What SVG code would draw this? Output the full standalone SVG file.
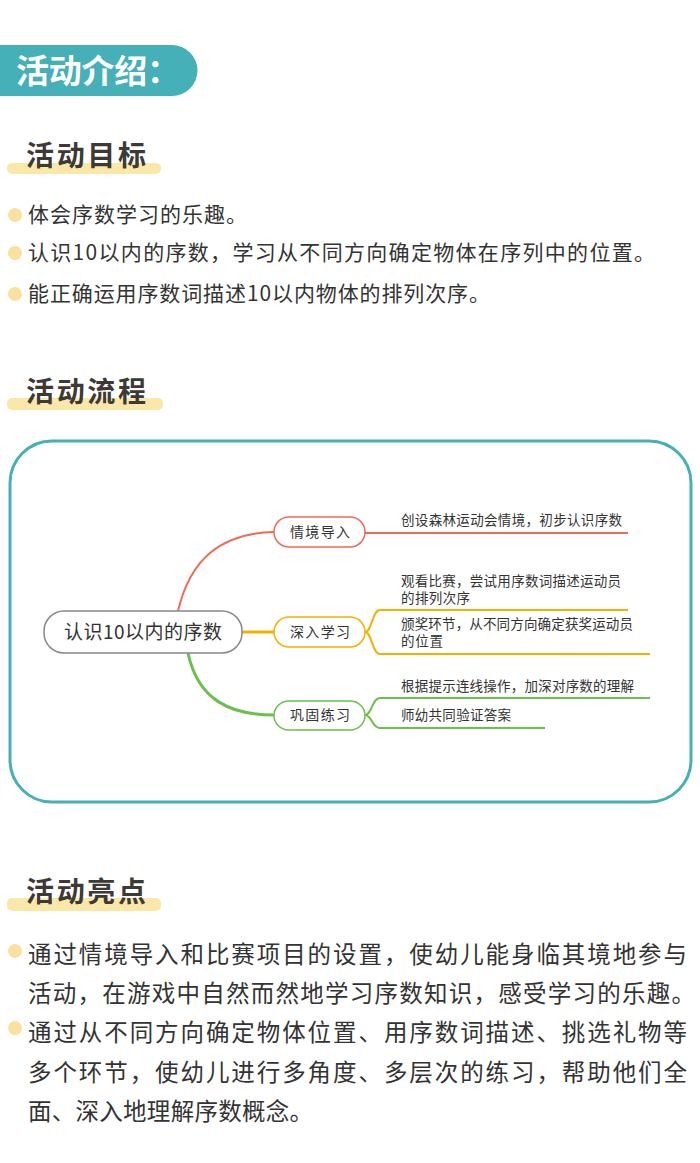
<svg xmlns="http://www.w3.org/2000/svg" width="700" height="1163" viewBox="0 0 700 1163">
<style>
text{font-family:"Noto Sans CJK SC","Noto Sans",sans-serif}
.h{font-size:28px;font-weight:bold;fill:#3d3a36}
.bar{fill:#fbe7a8}
.dot{fill:#fbe0a0}
.b1{font-size:21px;fill:#333}
.b2{font-size:23.5px;fill:#333}
.leaf{font-size:13.5px;fill:#333}
.nt{font-size:14px;fill:#333}
.n{fill:#fff;stroke-width:1.5}
</style>
<rect width="700" height="1163" fill="#fff"/>
<path d="M0 45 H172 A25.5 25.5 0 0 1 172 96 H0 Z" fill="#45b0b8"/>
<text x="16" y="83" font-size="33" font-weight="bold" fill="#fff" textLength="164">活动介绍：</text>

<rect class="bar" x="7" y="163" width="154" height="11" rx="5"/>
<text class="h" x="26" y="166" textLength="120">活动目标</text>
<circle class="dot" cx="15" cy="215" r="7"/>
<text class="b1" x="28" y="222" textLength="219">体会序数学习的乐趣。</text>
<circle class="dot" cx="15" cy="253" r="7"/>
<text class="b1" x="28" y="260" textLength="627">认识10以内的序数，学习从不同方向确定物体在序列中的位置。</text>
<circle class="dot" cx="15" cy="294" r="7"/>
<text class="b1" x="28" y="301" textLength="462">能正确运用序数词描述10以内物体的排列次序。</text>

<rect class="bar" x="7" y="398" width="156" height="12" rx="5"/>
<text class="h" x="26" y="402" textLength="120">活动流程</text>

<rect x="10" y="441" width="681" height="361" rx="42" fill="none" stroke="#45b0b8" stroke-width="3"/>

<g id="connectors" fill="none" stroke-width="2">
<path d="M178 611 C190 560 220 533 274 532" stroke="#f06a5a"/>
<path d="M365 533 H628" stroke="#f06a5a"/>
<path d="M242 632 H274" stroke="#f5b000" stroke-width="3"/>
<path d="M365 632 C372 632 372 610 380 610 H628 M365 632 C372 632 372 654 380 654 H650" stroke="#f5b000"/>
<path d="M188 653 C198 700 230 715 274 715" stroke="#6cbf4a" stroke-width="3"/>
<path d="M365 715 C372 715 372 698 380 698 H650 M365 715 C372 715 372 728 380 728 H545" stroke="#6cbf4a"/>
</g>

<g id="root"><rect class="n" x="44" y="611" width="198" height="42" rx="20" stroke="#888"/>
<text x="64" y="639" font-size="19" fill="#333" textLength="158">认识10以内的序数</text></g>
<g id="n1"><rect class="n" x="274" y="517" width="91" height="30" rx="15" stroke="#f06a5a"/>
<text class="nt" x="290" y="537" textLength="60">情境导入</text></g>
<g id="n2"><rect class="n" x="274" y="617" width="91" height="30" rx="15" stroke="#f5b000"/>
<text class="nt" x="290" y="637" textLength="60">深入学习</text></g>
<g id="n3"><rect class="n" x="274" y="701" width="91" height="29" rx="15" stroke="#6cbf4a"/>
<text class="nt" x="290" y="720" textLength="60">巩固练习</text></g>
<g id="leaves">
<text class="leaf" x="401" y="525" textLength="221">创设森林运动会情境，初步认识序数</text>
<text class="leaf" x="401" y="586" textLength="220">观看比赛，尝试用序数词描述运动员</text>
<text class="leaf" x="401" y="603" textLength="69">的排列次序</text>
<text class="leaf" x="401" y="629" textLength="232">颁奖环节，从不同方向确定获奖运动员</text>
<text class="leaf" x="401" y="646" textLength="42">的位置</text>
<text class="leaf" x="401" y="691" textLength="233">根据提示连线操作，加深对序数的理解</text>
<text class="leaf" x="401" y="720" textLength="110">师幼共同验证答案</text>
</g>

<rect class="bar" x="7" y="898" width="154" height="13" rx="5"/>
<text class="h" x="26" y="902" textLength="120">活动亮点</text>
<circle class="dot" cx="15" cy="951" r="7"/>
<text class="b2" x="28" y="963" textLength="659">通过情境导入和比赛项目的设置，使幼儿能身临其境地参与</text>
<text class="b2" x="28" y="1002" textLength="667">活动，在游戏中自然而然地学习序数知识，感受学习的乐趣。</text>
<circle class="dot" cx="15" cy="1028" r="7"/>
<text class="b2" x="28" y="1041" textLength="659">通过从不同方向确定物体位置、用序数词描述、挑选礼物等</text>
<text class="b2" x="28" y="1081" textLength="659">多个环节，使幼儿进行多角度、多层次的练习，帮助他们全</text>
<text class="b2" x="28" y="1120" textLength="285">面、深入地理解序数概念。</text>
</svg>
